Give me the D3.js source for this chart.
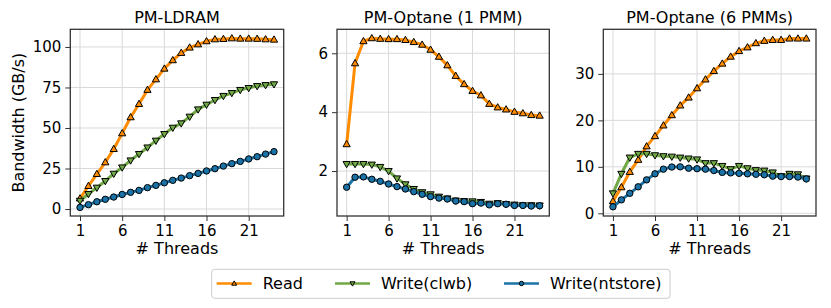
<!DOCTYPE html>
<html>
<head>
<meta charset="utf-8">
<script src="https://cdn.jsdelivr.net/npm/d3@7"></script>
<style>
  body { margin: 0; background: #fff; }
  svg { font-family: 'DejaVu Sans', sans-serif; }
</style>
</head>
<body>
<div id="chart"></div>
<script>
const threads = [1, 2, 3, 4, 5, 6, 7, 8, 9, 10, 11, 12, 13, 14, 15, 16, 17, 18, 19, 20, 21, 22, 23, 24];
const xTicks = [1, 6, 11, 16, 21];

// PM-LDRAM
const ldramRead = [6.5, 14.2, 21.6, 28.8, 37, 46.7, 56.6, 64.8, 73.5, 80, 86.6, 91.8, 96.3, 99.6, 101.6, 103.5, 104.7, 104.9, 105.3, 105.1, 105.1, 105, 104.7, 104.5];
const ldramClwb = [5.1, 9.3, 13.2, 17.3, 21.8, 25.7, 30, 34, 38, 42.2, 46.3, 50.2, 52.9, 57, 61.5, 64.4, 67.3, 69.8, 71.6, 73.5, 74.7, 75.9, 76.5, 77];
const ldramNt = [1.0, 2.7, 4.5, 6.0, 7.4, 9.0, 10.3, 11.5, 13.2, 14.6, 16.2, 17.7, 19.1, 20.6, 22, 23.5, 24.9, 26.5, 28, 29.4, 30.9, 32.3, 33.9, 35.4];

// PM-Optane (1 PMM)
const opt1Read = [2.91, 5.66, 6.41, 6.51, 6.49, 6.48, 6.48, 6.45, 6.38, 6.29, 6.12, 5.88, 5.59, 5.23, 4.95, 4.72, 4.57, 4.28, 4.16, 4.09, 4.01, 3.96, 3.90, 3.88];
const opt1Clwb = [2.24, 2.24, 2.24, 2.22, 2.14, 2.0, 1.75, 1.55, 1.39, 1.28, 1.21, 1.13, 1.07, 1.0, 0.98, 0.97, 0.95, 0.89, 0.91, 0.88, 0.86, 0.84, 0.84, 0.83];
const opt1Nt = [1.45, 1.79, 1.80, 1.72, 1.65, 1.56, 1.47, 1.39, 1.30, 1.21, 1.13, 1.08, 1.05, 0.98, 0.96, 0.89, 0.91, 0.85, 0.89, 0.87, 0.83, 0.83, 0.81, 0.82];

// PM-Optane (6 PMMs)
const opt6Read = [2.6, 5.6, 8.9, 11.5, 14.4, 16.6, 18.9, 21.1, 23.2, 24.9, 26.9, 28.8, 30.6, 32.2, 33.7, 34.9, 35.7, 36.6, 37.1, 37.3, 37.3, 37.6, 37.6, 37.6];
const opt6Clwb = [4.3, 8.5, 12.0, 12.8, 12.8, 12.5, 12.3, 12.2, 12.0, 11.8, 11.6, 10.8, 10.8, 10.2, 9.5, 10.2, 9.7, 9.3, 9.2, 8.8, 8.0, 8.5, 8.4, 7.5];
const opt6Nt = [1.4, 2.9, 4.3, 5.7, 7.2, 8.5, 9.5, 9.96, 10.0, 9.7, 9.6, 9.5, 9.2, 8.8, 8.7, 8.6, 8.5, 8.4, 8.3, 8.0, 7.9, 7.9, 7.8, 7.4];

const seriesNames = ['Read', 'Write(clwb)', 'Write(ntstore)'];
const colors = ['#ff8c00', '#70a845', '#1a72a6'];
const shapes = ['up', 'down', 'circle'];

const width = 831;
const height = 308;
const plotTop = 29.3;
const plotBottom = 216;

const panels = [
  { title: 'PM-LDRAM', left: 70.3, right: 283.7, yDomain: [-4.3, 110.9], yTicks: [0, 25, 50, 75, 100], data: [ldramRead, ldramClwb, ldramNt] },
  { title: 'PM-Optane (1 PMM)', left: 337, right: 549.3, yDomain: [0.472, 6.815], yTicks: [2, 4, 6], data: [opt1Read, opt1Clwb, opt1Nt] },
  { title: 'PM-Optane (6 PMMs)', left: 603.3, right: 816, yDomain: [-0.58, 39.6], yTicks: [0, 10, 20, 30], data: [opt6Read, opt6Clwb, opt6Nt] }
];

const svg = d3.select('#chart').append('svg')
  .attr('width', width)
  .attr('height', height);

const markerPath = (shape, s) => {
  if (shape === 'up') return `M0,${-s}L${s * 0.95},${s * 0.65}L${-s * 0.95},${s * 0.65}Z`;
  if (shape === 'down') return `M0,${s}L${s * 0.95},${-s * 0.65}L${-s * 0.95},${-s * 0.65}Z`;
  return null;
};

panels.forEach((p) => {
  const xScale = d3.scaleLinear()
    .domain([-0.15, 25.15])
    .range([p.left, p.right]);
  const yScale = d3.scaleLinear()
    .domain(p.yDomain)
    .range([plotBottom, plotTop]);

  const g = svg.append('g');

  // grid
  g.append('g')
    .selectAll('line')
    .data(xTicks)
    .join('line')
    .attr('x1', d => xScale(d)).attr('x2', d => xScale(d))
    .attr('y1', plotTop).attr('y2', plotBottom)
    .attr('stroke', '#d9d9d9').attr('stroke-width', 1);
  g.append('g')
    .selectAll('line')
    .data(p.yTicks)
    .join('line')
    .attr('x1', p.left).attr('x2', p.right)
    .attr('y1', d => yScale(d)).attr('y2', d => yScale(d))
    .attr('stroke', '#d9d9d9').attr('stroke-width', 1);

  // series
  p.data.forEach((vals, si) => {
    const pts = threads.map((t, i) => [t, vals[i]]);
    const line = d3.line()
      .x(d => xScale(d[0]))
      .y(d => yScale(d[1]));
    g.append('path')
      .datum(pts)
      .attr('d', line)
      .attr('fill', 'none')
      .attr('stroke', colors[si])
      .attr('stroke-width', 3)
      .attr('stroke-linejoin', 'round');
    const marks = g.append('g').selectAll('.m').data(pts).enter();
    if (shapes[si] === 'circle') {
      marks.append('circle')
        .attr('cx', d => xScale(d[0]))
        .attr('cy', d => yScale(d[1]))
        .attr('r', 3.2)
        .attr('fill', colors[si])
        .attr('stroke', '#000')
        .attr('stroke-width', 1);
    } else {
      marks.append('path')
        .attr('d', markerPath(shapes[si], 3.8))
        .attr('transform', d => `translate(${xScale(d[0])},${yScale(d[1])})`)
        .attr('fill', colors[si])
        .attr('stroke', '#000')
        .attr('stroke-width', 1);
    }
  });

  // frame
  g.append('rect')
    .attr('x', p.left).attr('y', plotTop)
    .attr('width', p.right - p.left).attr('height', plotBottom - plotTop)
    .attr('fill', 'none')
    .attr('stroke', '#333')
    .attr('stroke-width', 1.3);

  // axes
  const xAxis = d3.axisBottom(xScale)
    .tickValues(xTicks)
    .tickFormat(d3.format('d'))
    .tickSize(5)
    .tickPadding(4);
  const yAxis = d3.axisLeft(yScale)
    .tickValues(p.yTicks)
    .tickFormat(d3.format('d'))
    .tickSize(5)
    .tickPadding(4);

  g.append('g')
    .attr('transform', `translate(0,${plotBottom})`)
    .call(xAxis)
    .call(a => a.select('.domain').remove())
    .call(a => a.selectAll('text').attr('font-size', 15).attr('font-family', 'DejaVu Sans').attr('fill', '#000'))
    .call(a => a.selectAll('line').attr('stroke', '#333'));
  g.append('g')
    .attr('transform', `translate(${p.left},0)`)
    .call(yAxis)
    .call(a => a.select('.domain').remove())
    .call(a => a.selectAll('text').attr('font-size', 15).attr('font-family', 'DejaVu Sans').attr('fill', '#000'))
    .call(a => a.selectAll('line').attr('stroke', '#333'));

  g.append('text')
    .attr('x', (p.left + p.right) / 2)
    .attr('y', 22.5)
    .attr('text-anchor', 'middle')
    .attr('font-size', 16)
    .text(p.title);

  g.append('text')
    .attr('x', (p.left + p.right) / 2)
    .attr('y', 254)
    .attr('text-anchor', 'middle')
    .attr('font-size', 16)
    .text('# Threads');
});

svg.append('text')
  .attr('transform', `translate(24,${(plotTop + plotBottom) / 2}) rotate(-90)`)
  .attr('text-anchor', 'middle')
  .attr('font-size', 16)
  .text('Bandwidth (GB/s)');

// legend
const legend = svg.append('g');
legend.append('rect')
  .attr('x', 211.7).attr('y', 269.3)
  .attr('width', 458.3).attr('height', 29)
  .attr('rx', 3)
  .attr('fill', '#fff')
  .attr('stroke', '#cccccc')
  .attr('stroke-width', 1);

const legendX = [216.7, 335, 504];
seriesNames.forEach((name, i) => {
  const lx = legendX[i];
  const ly = 283.5;
  legend.append('line')
    .attr('x1', lx).attr('x2', lx + 35)
    .attr('y1', ly).attr('y2', ly)
    .attr('stroke', colors[i])
    .attr('stroke-width', 2.5);
  if (shapes[i] === 'circle') {
    legend.append('circle')
      .attr('cx', lx + 17.5).attr('cy', ly)
      .attr('r', 2.2)
      .attr('fill', colors[i])
      .attr('stroke', '#000')
      .attr('stroke-width', 1);
  } else {
    legend.append('path')
      .attr('d', markerPath(shapes[i], 2.6))
      .attr('transform', `translate(${lx + 17.5},${ly})`)
      .attr('fill', colors[i])
      .attr('stroke', '#000')
      .attr('stroke-width', 1);
  }
  legend.append('text')
    .attr('x', lx + 46)
    .attr('y', ly + 5.8)
    .attr('font-size', 16)
    .text(name);
});
</script>
</body>
</html>
